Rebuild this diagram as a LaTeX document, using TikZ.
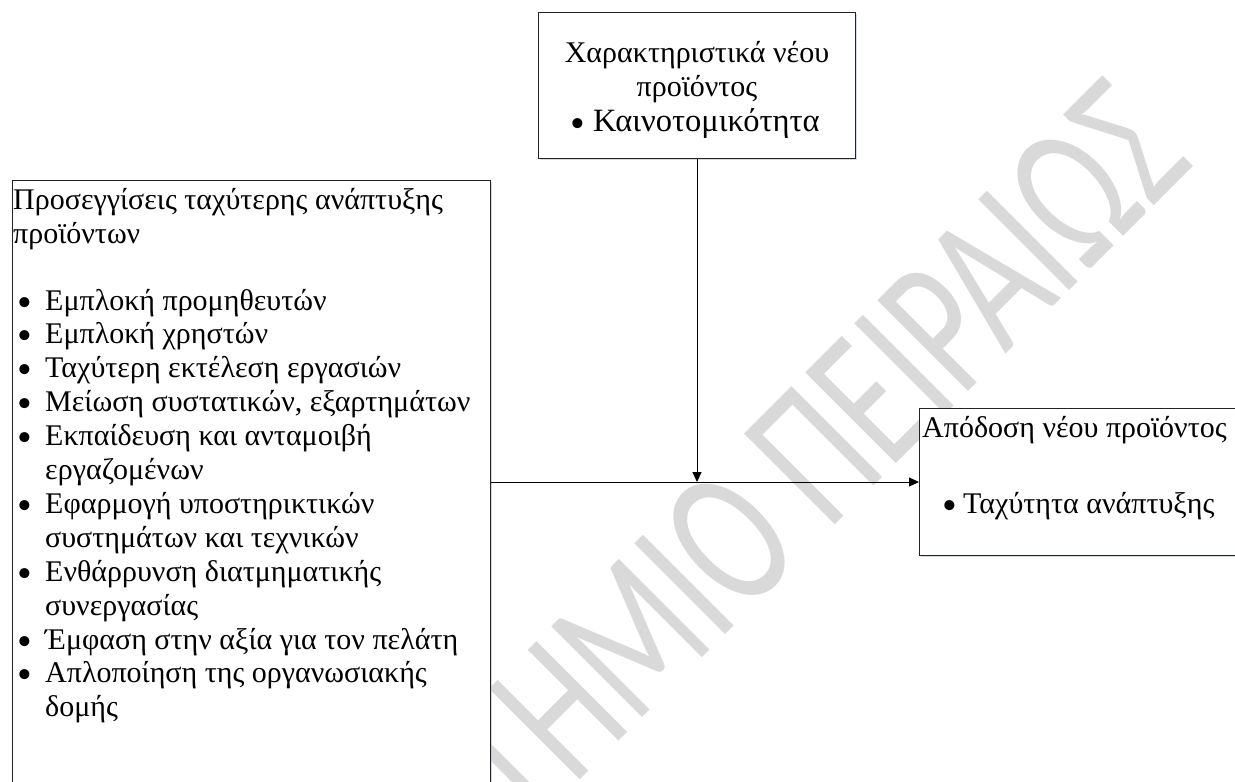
\documentclass[tikz,border=0pt]{standalone}
\usepackage{graphicx}
\usepackage{fontspec}
\setmainfont{Liberation Serif}
\newfontfamily\wmfont{Carlito}
\usetikzlibrary{arrows.meta,shadows}
\definecolor{wmgray}{RGB}{217,217,217}
\definecolor{boxline}{RGB}{35,35,35}
\definecolor{shade}{RGB}{185,195,212}

% a round, slightly enlarged bullet sitting at mid x-height
\newcommand\bdot{\raisebox{-6pt}{\scalebox{1.4}{•}}}
% a bulleted line: name, x of bullet, x of text, baseline, text
\newcommand\bitem[5]{%
  \node[txt] (#1b) at (#2,#4) {\bdot};
  \node[txt] (#1) at (#3,#4) {#5};}

\begin{document}
\begin{tikzpicture}[x=1pt,y=-1pt,
  box/.style={draw=boxline, line width=1pt, fill=white, inner sep=0pt,
    anchor=north west,
    drop shadow={shadow xshift=1.5pt, shadow yshift=-1.5pt, fill=shade, opacity=0.6}},
  txt/.style={font=\fontsize{30}{34}\selectfont, inner sep=0pt, anchor=base west},
  ctxt/.style={txt, anchor=base},
  link/.style={line width=1pt, -{Triangle[length=10pt,width=9pt]}},
  wm/.style={text=wmgray, font=\wmfont\fontsize{200}{200}\selectfont, inner sep=0pt}]
\useasboundingbox (0,0) rectangle (1235,782);
\clip (0,0) rectangle (1235,782);
\fill[white] (0,0) rectangle (1235,782);

% watermark across the page
\node[wm, rotate=45, anchor=base east] (wmark) at (1196,164)
  {\scalebox{0.69}[1]{ΠΑΝΕΠΙΣΤΗΜΙΟ ΠΕΙΡΑΙΩΣ}};

% boxes
\node[box, minimum width=478pt, minimum height=640pt] (lbox) at (12,180) {};
\node[box, minimum width=317pt, minimum height=146pt] (tbox) at (538,12) {};
\node[box, minimum width=340pt, minimum height=147pt] (rbox) at (919,408) {};

% top box text
\node[ctxt] (t1) at (697,62) {Χαρακτηριστικά νέου};
\node[ctxt] (t2) at (697,96.5) {προϊόντος};
\node[txt] (t3b) at (570,131) {\bdot};
\node[txt, font=\fontsize{32.5}{34}\selectfont] (t3) at (593,131) {Καινοτομικότητα};

% left box text
\node[txt] (l0) at (13,209) {Προσεγγίσεις ταχύτερης ανάπτυξης};
\node[txt] (l1) at (13,243) {προϊόντων};
\bitem{la}{17}{45}{310}{Εμπλοκή προμηθευτών}
\bitem{lb}{17}{45}{343.9}{Εμπλοκή χρηστών}
\bitem{lc}{17}{45}{377.8}{Ταχύτερη εκτέλεση εργασιών}
\bitem{ld}{17}{45}{411.7}{Μείωση συστατικών, εξαρτημάτων}
\bitem{le}{17}{45}{445.6}{Εκπαίδευση και ανταμοιβή}
\node[txt] (le2) at (45,479.5) {εργαζομένων};
\bitem{lf}{17}{45}{513.4}{Εφαρμογή υποστηρικτικών}
\node[txt] (lf2) at (45,547.3) {συστημάτων και τεχνικών};
\bitem{lg}{17}{45}{581.2}{Ενθάρρυνση διατμηματικής}
\node[txt] (lg2) at (45,615.1) {συνεργασίας};
\bitem{lh}{17}{45}{649}{Έμφαση στην αξία για τον πελάτη}
\bitem{li}{17}{45}{682.9}{Απλοποίηση της οργανωσιακής}
\node[txt] (li2) at (45,716.8) {δομής};

% right box text
\node[txt] (r1) at (922,437) {Απόδοση νέου προϊόντος};
\bitem{r2}{942}{963}{513}{Ταχύτητα ανάπτυξης}

% connectors
\coordinate (j) at (tbox.south |- rbox.west);
\draw[link] (tbox.south) -- (j);
\draw[link] (lbox.east |- rbox.west) -- (rbox.west);
\end{tikzpicture}
\end{document}
